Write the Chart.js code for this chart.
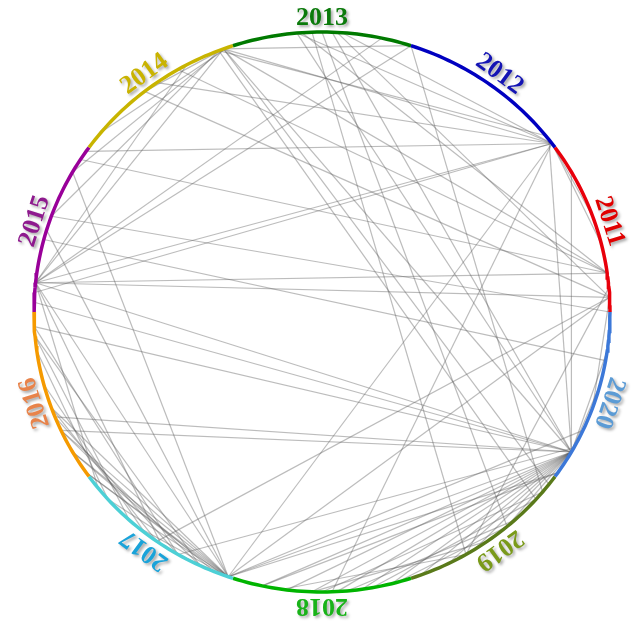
<!DOCTYPE html>
<html>
<head>
<meta charset="utf-8">
<script src="https://cdn.jsdelivr.net/npm/chart.js@4.4.0/dist/chart.umd.min.js"></script>
<style>
html, body { margin: 0; padding: 0; background: #fff; }
#wrap { width: 634px; height: 624px; }
</style>
</head>
<body>
<div id="wrap"><canvas id="chord" width="634" height="624"></canvas></div>
<script>
// years around the ring, each one owns a slice of angle (degrees, counter-clockwise from the right)
let years = ['2011','2012','2013','2014','2015','2016','2017','2018','2019','2020']
let yearStart = [0,36,72,108,144,180,216,252,288,324]
let yearEnd = [36,72,108,144,180,216,252,288,324,360]
let arcColors = ['#e8000b','#0000c0','#007a00','#c8b400','#990099','#f59a00','#4dd0d6','#00b400','#5a7a1a','#3c78d8']
let labelColors = ['#e00000','#1414b4','#0b7a0b','#c9b300','#8e1a8e','#e8834a','#1aa3d9','#19b319','#7a9a1a','#5b9bd5']

// links between two papers, given as the angle of each end on the ring
let chordFrom = [
  110,110,111,110,110,111,110,110,110,109,110,111,
  95,94,95,88,87,92,86,
  72,72,
  37,37,37,37,38,37,37,37,37,
  174,174,120,128,147,160,165,3,5,3,3,
  330,330,330,330,330,330,330,330,330,330,330,330,330,330,330,330,330,330,331,30,
  251,251,251,251,251,251,251,251,251,251,251,251,
  202,205,200,195,210,215,185,183,188,185,
  174,174,174,174,
  262,268,275,280,285,270,258,
  90
]
let chordTo = [
  72,37,39,8,330,318,322,174,150,140,128,160,
  37,8,330,330,3,300,37,
  174,320,
  174,176,145,251,330,272,20,14,125,
  8,3,8,3,8,0,350,251,300,340,235,
  251,258,263,268,273,278,284,290,296,302,310,183,178,174,202,205,345,352,240,330,
  325,335,174,163,150,200,205,210,215,222,230,240,
  240,245,235,232,248,250,228,240,222,245,
  118,78,219,236,
  300,305,312,318,310,320,325,
  310
]

function ringPoint(deg) {
  let a = deg * Math.PI / 180
  return { x: Math.cos(a), y: Math.sin(a) }
}

let datasets = []

years.forEach((yr, i) => {
  let pts = []
  for (let d = yearStart[i]; d <= yearEnd[i]; d += 1) pts.push(ringPoint(d))
  datasets.push({
    label: yr,
    data: pts,
    showLine: true,
    borderColor: arcColors[i],
    borderWidth: 3.5,
    pointRadius: 0,
    clip: false
  })
})

chordFrom.forEach((f, i) => {
  datasets.push({
    label: 'link' + i,
    data: [ringPoint(f), ringPoint(chordTo[i])],
    showLine: true,
    borderColor: 'rgba(95,95,95,0.42)',
    borderWidth: 1.2,
    pointRadius: 0,
    clip: false
  })
})

const yearLabels = {
  id: 'yearLabels',
  afterDatasetsDraw(chart) {
    const { ctx, scales: { x, y } } = chart
    const cx = x.getPixelForValue(0), cy = y.getPixelForValue(0)
    const rx = x.getPixelForValue(1) - cx, ry = cy - y.getPixelForValue(1)
    years.forEach((yr, i) => {
      const mid = (yearStart[i] + yearEnd[i]) / 2
      const a = mid * Math.PI / 180
      const px = cx + (rx + 14) * Math.cos(a)
      const py = cy - (ry + 14) * Math.sin(a)
      ctx.save()
      ctx.translate(px, py)
      ctx.rotate((90 - mid) * Math.PI / 180)
      ctx.font = 'bold 26px "Liberation Serif", "Times New Roman", serif'
      ctx.textAlign = 'center'
      ctx.textBaseline = 'middle'
      ctx.shadowColor = 'rgba(0,0,0,0.35)'
      ctx.shadowBlur = 3
      ctx.shadowOffsetX = 2
      ctx.shadowOffsetY = 2
      ctx.fillStyle = labelColors[i]
      ctx.fillText(yr, 0, 0)
      ctx.restore()
    })
  }
}

new Chart(document.getElementById('chord'), {
  type: 'scatter',
  data: { datasets: datasets },
  options: {
    responsive: false,
    animation: false,
    layout: { padding: { left: 34, right: 24, top: 32, bottom: 32 } },
    elements: { line: { tension: 0 } },
    scales: {
      x: { type: 'linear', min: -1, max: 1, display: false },
      y: { type: 'linear', min: -1, max: 1, display: false }
    },
    plugins: {
      legend: { display: false },
      tooltip: { enabled: false }
    }
  },
  plugins: [yearLabels]
})
</script>
</body>
</html>
